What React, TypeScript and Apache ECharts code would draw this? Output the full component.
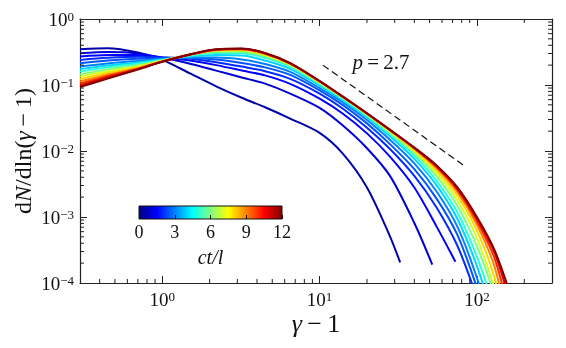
import React, { useEffect, useRef } from "react";
import * as echarts from "echarts";

const FONT = "'Liberation Serif', 'DejaVu Serif', 'Times New Roman', serif";

// shared gamma-1 grid for all curves
const gammaGrid = [0.3, 0.45, 0.7, 1, 1.5, 2.2, 3.2, 4.5, 6.5, 10, 14, 20, 28, 40, 55, 75, 100, 130, 170];

// ct/l of every curve
const curveTimes = [0.5, 1, 1.5, 2, 2.5, 3, 4, 5, 6, 7, 8, 9, 10, 11, 12];

// dN/dln(gamma-1) values on gammaGrid (null = beyond curve end)
const curveT0_5 = [0.349, 0.36, 0.31, 0.24, 0.15, 0.0955, 0.064, 0.046, 0.031, 0.0188, 0.0092, 0.0028, 5.1e-4, null, null, null, null, null, null];
const curveT1 = [0.303, 0.315, 0.3, 0.258, 0.21, 0.165, 0.13, 0.105, 0.074, 0.045, 0.0245, 0.011, 0.0042, 8.1e-4, null, null, null, null, null];
const curveT1_5 = [0.27, 0.285, 0.285, 0.262, 0.235, 0.2, 0.166, 0.14, 0.104, 0.062, 0.037, 0.0185, 0.0082, 0.0028, 7.4e-4, null, null, null, null];
const curveT2 = [0.24, 0.258, 0.268, 0.262, 0.25, 0.222, 0.19, 0.162, 0.124, 0.074, 0.044, 0.0225, 0.0107, 0.0042, 0.00143, 3.7e-4, 6e-5, null, null];
const curveT2_5 = [0.214, 0.235, 0.25, 0.255, 0.255, 0.243, 0.215, 0.185, 0.142, 0.083, 0.05, 0.0262, 0.0127, 0.0053, 0.00195, 5.4e-4, 8.5e-5, null, null];
const curveT3 = [0.19, 0.212, 0.232, 0.248, 0.26, 0.26, 0.243, 0.208, 0.158, 0.09, 0.055, 0.0295, 0.0148, 0.0065, 0.0025, 7.2e-4, 1.2e-4, 1.5e-5, null];
const curveT4 = [0.174, 0.198, 0.22, 0.243, 0.27, 0.285, 0.28, 0.235, 0.176, 0.098, 0.059, 0.0322, 0.0167, 0.0076, 0.0031, 9.5e-4, 1.8e-4, 2.5e-5, null];
const curveT5 = [0.16, 0.185, 0.21, 0.24, 0.28, 0.305, 0.302, 0.258, 0.19, 0.103, 0.062, 0.034, 0.0181, 0.0085, 0.0036, 0.00118, 2.5e-4, 4e-5, null];
const curveT6 = [0.146, 0.172, 0.2, 0.236, 0.287, 0.32, 0.32, 0.272, 0.198, 0.107, 0.064, 0.0352, 0.0191, 0.0093, 0.0042, 0.00148, 3.6e-4, 6.5e-5, null];
const curveT7 = [0.134, 0.162, 0.192, 0.233, 0.29, 0.33, 0.333, 0.284, 0.204, 0.11, 0.0652, 0.0359, 0.0198, 0.0099, 0.0047, 0.00178, 4.8e-4, 8e-5, null];
const curveT8 = [0.123, 0.152, 0.185, 0.23, 0.29, 0.336, 0.342, 0.292, 0.208, 0.112, 0.0658, 0.0364, 0.0203, 0.0104, 0.0052, 0.0021, 6.2e-4, 1.15e-4, 6e-6];
const curveT9 = [0.113, 0.143, 0.18, 0.228, 0.29, 0.34, 0.348, 0.297, 0.211, 0.113, 0.0663, 0.0367, 0.0206, 0.0108, 0.0056, 0.0024, 7.6e-4, 1.7e-4, 1e-5];
const curveT10 = [0.105, 0.136, 0.176, 0.227, 0.29, 0.343, 0.352, 0.3, 0.212, 0.114, 0.0667, 0.037, 0.0208, 0.011, 0.0058, 0.0026, 8.6e-4, 2.3e-4, 2e-5];
const curveT11 = [0.098, 0.13, 0.174, 0.226, 0.29, 0.346, 0.354, 0.303, 0.213, 0.1145, 0.067, 0.0372, 0.0209, 0.0112, 0.006, 0.0027, 9.4e-4, 2.8e-4, 3.5e-5];
const curveT12 = [0.093, 0.125, 0.172, 0.225, 0.29, 0.348, 0.356, 0.305, 0.214, 0.115, 0.0672, 0.0373, 0.021, 0.01126, 0.00614, 0.00283, 0.001, 3.07e-4, 5e-5];

// final point of curves that stop above the axis
const curveEnds: (number[] | null)[] = [[32.5, 2.05e-4], [52, 1.9e-4], [73, 2.1e-4], null, null, null, null, null, null, null, null, null, null, null, null];

const curves = [curveT0_5, curveT1, curveT1_5, curveT2, curveT2_5, curveT3, curveT4, curveT5, curveT6, curveT7, curveT8, curveT9, curveT10, curveT11, curveT12];

// power-law guide p = 2.7
const guideX = [10.5, 82];
const guideY = [0.2, 0.0061];
const guideLabelPos = [24.6, 0.224];
const guideLabel = "2.7";

// colorbar
const cbMin = 0;
const cbMax = 12;
const cbInterval = 3;

// minor ticks
const xMinorTicks = [0.4, 0.5, 0.6, 0.7, 0.8, 0.9, 2, 3, 4, 5, 6, 7, 8, 9, 20, 30, 40, 50, 60, 70, 80, 90, 200];
const yMinorTicks = [2e-4, 3e-4, 4e-4, 5e-4, 6e-4, 7e-4, 8e-4, 9e-4, 2e-3, 3e-3, 4e-3, 5e-3, 6e-3, 7e-3, 8e-3, 9e-3, 0.02, 0.03, 0.04, 0.05, 0.06, 0.07, 0.08, 0.09, 0.2, 0.3, 0.4, 0.5, 0.6, 0.7, 0.8, 0.9];

function clamp(v: number) {
  return Math.max(0, Math.min(1, v));
}
function jet(v: number) {
  const r = clamp(Math.min(4 * v - 1.5, -4 * v + 4.5));
  const g = clamp(Math.min(4 * v - 0.5, -4 * v + 3.5));
  const b = clamp(Math.min(4 * v + 0.5, -4 * v + 2.5));
  return `rgb(${Math.round(r * 255)},${Math.round(g * 255)},${Math.round(b * 255)})`;
}

const AX = "#222";
const TXT = "#111";

function powLabel(v: number) {
  const l = Math.log10(v);
  const e = Math.round(l);
  if (Math.abs(l - e) > 1e-6) return "";
  const es = e < 0 ? "\u2212" + -e : String(e);
  return `{b|10}{e|${es}}`;
}
const powRich = {
  b: { fontSize: 19, fontFamily: FONT, color: TXT, lineHeight: 19, verticalAlign: "bottom" },
  e: { fontSize: 13, fontFamily: FONT, color: TXT, lineHeight: 12, verticalAlign: "top" },
};

export default function App() {
  const ref = useRef<HTMLDivElement>(null);
  useEffect(() => {
    const chart = echarts.init(ref.current!, null, { renderer: "svg" });

    const lineSeries = curves.map((ys, i) => {
      const data: number[][] = [];
      ys.forEach((y, k) => {
        if (y != null) data.push([gammaGrid[k], y]);
      });
      const end = curveEnds[i];
      if (end) data.push(end);
      return {
        type: "line",
        xAxisIndex: 0,
        yAxisIndex: 0,
        data,
        symbol: "none",
        showSymbol: false,
        smooth: 0.3,
        clip: true,
        silent: true,
        z: 2,
        lineStyle: { width: 2, color: jet((curveTimes[i] - cbMin) / (cbMax - cbMin)) },
      };
    });

    const stops = [];
    for (let k = 0; k <= 16; k++) stops.push({ offset: k / 16, color: jet(k / 16) });

    const option: any = {
      animation: false,
      grid: [
        { left: 80, right: 14, top: 19, bottom: 65, show: false },
        {
          left: 139,
          top: 206,
          width: 143,
          height: 13,
          show: true,
          backgroundColor: new echarts.graphic.LinearGradient(0, 0, 1, 0, stops),
          borderColor: "#111",
          borderWidth: 1,
        },
      ],
      xAxis: [
        {
          type: "log",
          logBase: 10,
          gridIndex: 0,
          min: 0.3,
          max: 300,
          position: "bottom",
          axisLine: { show: true, lineStyle: { color: AX, width: 1.2 } },
          axisTick: { inside: true, length: 7, lineStyle: { color: AX, width: 1 } },
          splitLine: { show: false },
          axisLabel: { formatter: powLabel, rich: powRich, margin: 7, showMinLabel: false, showMaxLabel: false },
          name: "{i|\u03b3}{n|\u2009\u2212\u20091}",
          nameLocation: "middle",
          nameGap: 27,
          nameMoveOverlap: false,
          nameTextStyle: {
            fontFamily: FONT,
            fontSize: 26,
            color: TXT,
            rich: {
              i: { fontFamily: FONT, fontSize: 26, fontStyle: "italic", color: TXT, lineHeight: 26 },
              n: { fontFamily: FONT, fontSize: 26, color: TXT, lineHeight: 26 },
            },
          },
        },
        {
          type: "log",
          logBase: 10,
          gridIndex: 0,
          min: 0.3,
          max: 300,
          position: "top",
          axisLine: { show: true, lineStyle: { color: AX, width: 1.2 } },
          axisTick: { inside: true, length: 7, lineStyle: { color: AX, width: 1 } },
          splitLine: { show: false },
          axisLabel: { show: false },
        },
        {
          type: "value",
          gridIndex: 1,
          min: cbMin,
          max: cbMax,
          interval: cbInterval,
          position: "bottom",
          axisLine: { show: false },
          axisTick: { inside: true, length: 4, lineStyle: { color: "#111", width: 1 } },
          splitLine: { show: false },
          axisLabel: { fontFamily: FONT, fontSize: 18, color: TXT, margin: 4 },
          name: "ct/l",
          nameLocation: "middle",
          nameGap: 28,
          nameTextStyle: { fontFamily: FONT, fontSize: 20, fontStyle: "italic", color: TXT },
        },
      ],
      yAxis: [
        {
          type: "log",
          logBase: 10,
          gridIndex: 0,
          min: 1e-4,
          max: 1,
          position: "left",
          axisLine: { show: true, lineStyle: { color: AX, width: 1.2 } },
          axisTick: { inside: true, length: 7, lineStyle: { color: AX, width: 1 } },
          splitLine: { show: false },
          axisLabel: { formatter: powLabel, rich: powRich, margin: 6 },
          name: "{n|d}{i|N}{n|/dln(}{i|\u03b3}{n|\u2009\u2212\u20091)}",
          nameLocation: "middle",
          nameRotate: 90,
          nameGap: 45,
          nameMoveOverlap: false,
          nameTextStyle: {
            fontFamily: FONT,
            fontSize: 24,
            color: TXT,
            rich: {
              i: { fontFamily: FONT, fontSize: 24, fontStyle: "italic", color: TXT },
              n: { fontFamily: FONT, fontSize: 24, color: TXT },
            },
          },
        },
        {
          type: "log",
          logBase: 10,
          gridIndex: 0,
          min: 1e-4,
          max: 1,
          position: "right",
          axisLine: { show: true, lineStyle: { color: AX, width: 1.2 } },
          axisTick: { inside: true, length: 7, lineStyle: { color: AX, width: 1 } },
          splitLine: { show: false },
          axisLabel: { show: false },
        },
        {
          type: "value",
          gridIndex: 1,
          min: 0,
          max: 1,
          show: false,
        },
      ],
      series: [
        ...lineSeries,
        {
          type: "line",
          xAxisIndex: 0,
          yAxisIndex: 0,
          data: guideX.map((x, i) => [x, guideY[i]]),
          symbol: "none",
          silent: true,
          lineStyle: { color: "#111", width: 1.2, type: [7, 4] },
          z: 3,
        },
        {
          type: "custom",
          xAxisIndex: 0,
          yAxisIndex: 0,
          silent: true,
          z: 5,
          data: xMinorTicks.map((v) => [v, 1]),
          renderItem: (params: any, api: any) => {
            const cs = params.coordSys;
            const x = api.coord([api.value(0), 1])[0];
            const bottom = cs.y + cs.height;
            return {
              type: "group",
              children: [
                { type: "line", shape: { x1: x, y1: bottom, x2: x, y2: bottom - 4 }, style: { stroke: AX, lineWidth: 1 } },
                { type: "line", shape: { x1: x, y1: cs.y, x2: x, y2: cs.y + 4 }, style: { stroke: AX, lineWidth: 1 } },
              ],
            };
          },
        },
        {
          type: "custom",
          xAxisIndex: 0,
          yAxisIndex: 0,
          silent: true,
          z: 5,
          data: yMinorTicks.map((v) => [1, v]),
          renderItem: (params: any, api: any) => {
            const cs = params.coordSys;
            const y = api.coord([1, api.value(1)])[1];
            const right = cs.x + cs.width;
            return {
              type: "group",
              children: [
                { type: "line", shape: { x1: cs.x, y1: y, x2: cs.x + 4, y2: y }, style: { stroke: AX, lineWidth: 1 } },
                { type: "line", shape: { x1: right, y1: y, x2: right - 4, y2: y }, style: { stroke: AX, lineWidth: 1 } },
              ],
            };
          },
        },
      ],
    };
    chart.setOption(option);

    const pos = chart.convertToPixel({ xAxisIndex: 0, yAxisIndex: 0 }, guideLabelPos) as number[];
    chart.setOption({
      graphic: [
        {
          type: "text",
          x: pos[0],
          y: pos[1],
          z: 20,
          silent: true,
          style: {
            text: `{i|p}{n|\u2009=\u2009${guideLabel}}`,
            align: "center",
            verticalAlign: "middle",
            rich: {
              i: { fontFamily: FONT, fontSize: 21, fontStyle: "italic", fill: TXT },
              n: { fontFamily: FONT, fontSize: 21, fill: TXT },
            },
          },
        },
      ],
    });
    return () => chart.dispose();
  }, []);
  return <div ref={ref} style={{ position: "fixed", left: 0, top: 0, width: 566, height: 348 }} />;
}
